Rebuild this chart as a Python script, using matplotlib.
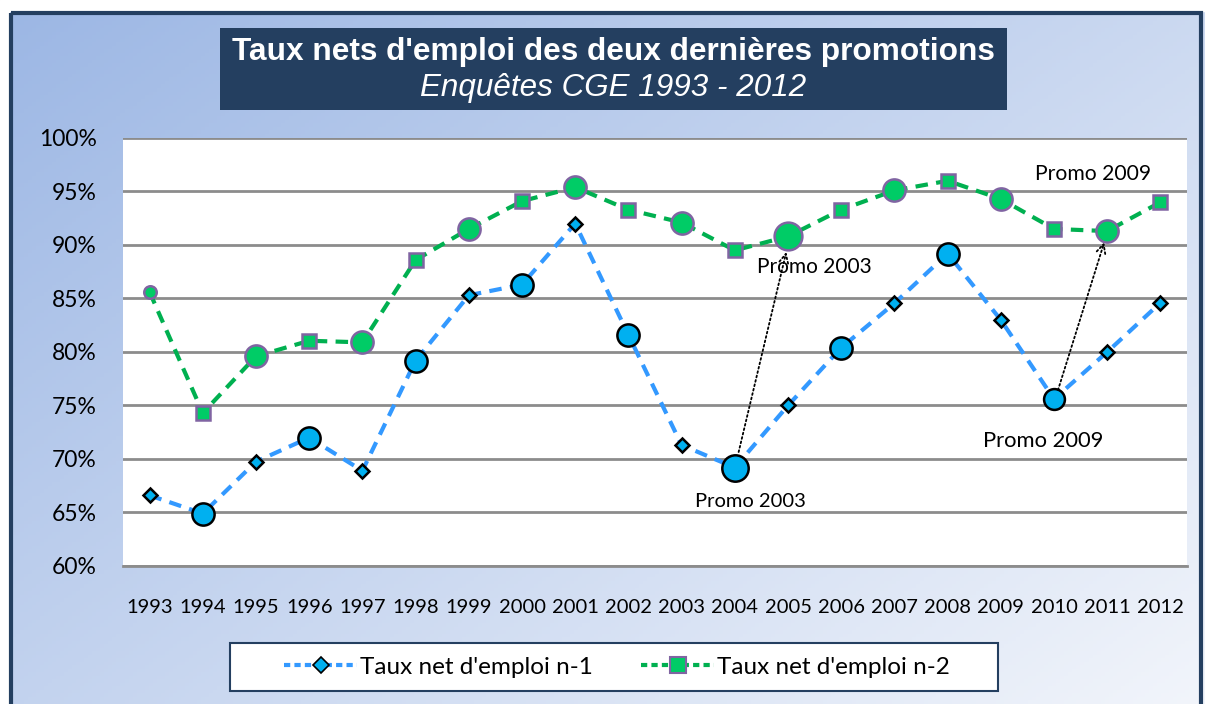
import matplotlib
matplotlib.use("Agg")
import matplotlib.pyplot as plt
import numpy as np
from matplotlib.lines import Line2D
from matplotlib.patches import Rectangle

years = ["1993", "1994", "1995", "1996", "1997", "1998", "1999", "2000", "2001", "2002",
         "2003", "2004", "2005", "2006", "2007", "2008", "2009", "2010", "2011", "2012"]
taux_n1 = [66.6, 64.9, 69.75, 72.0, 68.9, 79.2, 85.3, 86.3, 92.0, 81.6,
           71.3, 69.2, 75.0, 80.4, 84.55, 89.2, 83.0, 75.6, 80.0, 84.6]
taux_n2 = [85.6, 74.3, 79.6, 81.05, 80.9, 88.6, 91.5, 94.1, 95.4, 93.3,
           92.1, 89.5, 90.8, 93.3, 95.1, 96.0, 94.3, 91.5, 91.3, 94.0]
y_ticks = [60, 65, 70, 75, 80, 85, 90, 95, 100]
series_labels = ["Taux net d'emploi n-1", "Taux net d'emploi n-2"]
title1 = "Taux nets d'emploi des deux dernières promotions"
title2 = "Enquêtes CGE 1993 - 2012"

# marker styling per point (style only)
m1 = ['D', 'o', 'D', 'o', 'D', 'o', 'D', 'o', 'D', 'o', 'D', 'o', 'D', 'o', 'D', 'o', 'D', 'o', 'D', 'D']
s1 = [7.5, 16, 7.5, 16, 7.5, 16, 7.5, 16, 7.5, 16, 7.5, 19, 7.5, 16, 7.5, 16, 7.5, 15, 7.5, 7.5]
m2 = ['o', 's', 'o', 's', 'o', 's', 'o', 's', 'o', 's', 'o', 's', 'o', 's', 'o', 's', 'o', 's', 'o', 's']
s2 = [9, 10, 16, 10, 16, 10, 16, 10, 16, 10, 16, 10, 20, 10, 16, 10, 16, 10, 16, 10]

W, H = 1205, 704
fig = plt.figure(figsize=(W / 100, H / 100), dpi=100)
fig.patch.set_facecolor('white')

# gradient background
bg = fig.add_axes([0, 0, 1, 1], zorder=-10)
gx, gy = np.meshgrid(np.linspace(0, 1, 300), np.linspace(0, 1, 200))
t = np.clip((gx * 0.55 + gy * 0.45), 0, 1)
c0 = np.array([155, 182, 228]) / 255
c1 = np.array([242, 245, 251]) / 255
img = c0[None, None, :] * (1 - t[..., None]) + c1[None, None, :] * t[..., None]
bg.imshow(img, extent=[0, W, H, 0], aspect='auto', origin='upper')
bg.set_xlim(0, W)
bg.set_ylim(H, 0)
bg.axis('off')
# white margins outside frame
bg.add_patch(Rectangle((0, 0), W, 11, color='white', zorder=2))
bg.add_patch(Rectangle((0, 0), 9, H, color='white', zorder=2))
bg.add_patch(Rectangle((10.5, 12.5), 1190, 700, fill=False, edgecolor='#243F60', lw=3, zorder=3))
# title box
bg.add_patch(Rectangle((220, 28), 787, 82, facecolor='#243F60', edgecolor='none', zorder=3))
bg.text(613, 52, title1, ha='center', va='center', color='white', fontsize=22.8,
        fontweight='bold', family='Liberation Sans', zorder=4)
bg.text(613, 88, title2, ha='center', va='center', color='white', fontsize=22.6,
        style='italic', family='Liberation Sans', zorder=4)
# legend frame
bg.add_patch(Rectangle((230, 643), 768, 48, facecolor='white', edgecolor='#243F60',
                       lw=1.5, zorder=3))

ax = fig.add_axes([123 / W, 1 - 566 / H, (1187 - 123) / W, (566 - 138) / H])
ax.set_facecolor('white')
x = np.arange(len(years))

ax.plot(x, taux_n1, color='#3399FF', lw=3, ls=(0, (3, 2)), zorder=3)
ax.plot(x, taux_n2, color='#00B050', lw=3, ls=(0, (3, 2)), zorder=3)
for i in range(len(years)):
    ax.plot(x[i], taux_n1[i], marker=m1[i], ms=s1[i], mfc='#00B0F0', mec='black',
            mew=1.8, ls='none', zorder=5)
    ax.plot(x[i], taux_n2[i], marker=m2[i], ms=s2[i], mfc='#00CC66', mec='#8064A2',
            mew=1.8, ls='none', zorder=4)

ax.set_xlim(-0.5, len(years) - 0.5)
ax.set_ylim(60, 100)
ax.set_yticks(y_ticks)
ax.set_yticklabels([f"{v}%" for v in y_ticks], family='Lato', fontsize=16.5)
ax.set_xticks(x)
ax.set_xticklabels(years, family='Lato', fontsize=14.5)
ax.tick_params(axis='both', length=0)
ax.tick_params(axis='y', pad=19)
ax.tick_params(axis='x', pad=24)
ax.grid(axis='y', color='#8C8C8C', lw=2, zorder=1)
ax.set_axisbelow(True)
for s in ['left', 'right', 'top']:
    ax.spines[s].set_visible(False)
ax.spines['bottom'].set_color('#8C8C8C')
ax.spines['bottom'].set_linewidth(2)

# annotations
arrow_kw = dict(arrowstyle='->', ls=(0, (1, 1.5)), color='black', lw=1.3, mutation_scale=16)
ax.annotate('', xy=(11.98, 89.6), xytext=(11.06, 70.4), arrowprops=arrow_kw, zorder=6)
ax.annotate('', xy=(17.96, 90.5), xytext=(17.06, 76.2), arrowprops=arrow_kw, zorder=6)
ax.text(11.29, 66.0, 'Promo 2003', ha='center', va='center', family='Lato', fontsize=14.5, zorder=7)
ax.text(12.5, 87.9, 'Promo 2003', ha='center', va='center', family='Lato', fontsize=15, zorder=7)
ax.text(16.8, 71.7, 'Promo 2009', ha='center', va='center', family='Lato', fontsize=15.8, zorder=7)
ax.text(17.73, 96.6, 'Promo 2009', ha='center', va='center', family='Lato', fontsize=15.2, zorder=7)

# legend
handles = [
    Line2D([], [], color='#3399FF', lw=3, ls=(0, (1.5, 1)), marker='D', ms=8,
           mfc='#00B0F0', mec='black', mew=1.2),
    Line2D([], [], color='#00B050', lw=3, ls=(0, (1.5, 1)), marker='s', ms=11,
           mfc='#00CC66', mec='#8064A2', mew=1.5),
]
leg = fig.legend(handles, series_labels, loc='center',
                 bbox_to_anchor=(617 / W, 1 - 667 / H), ncol=2, frameon=False,
                 prop={'family': 'Lato', 'size': 17.5},
                 handlelength=3.0, columnspacing=2.0, borderpad=0.45, handletextpad=0.1,
                 borderaxespad=0)

fig.savefig('out.png', dpi=100)
